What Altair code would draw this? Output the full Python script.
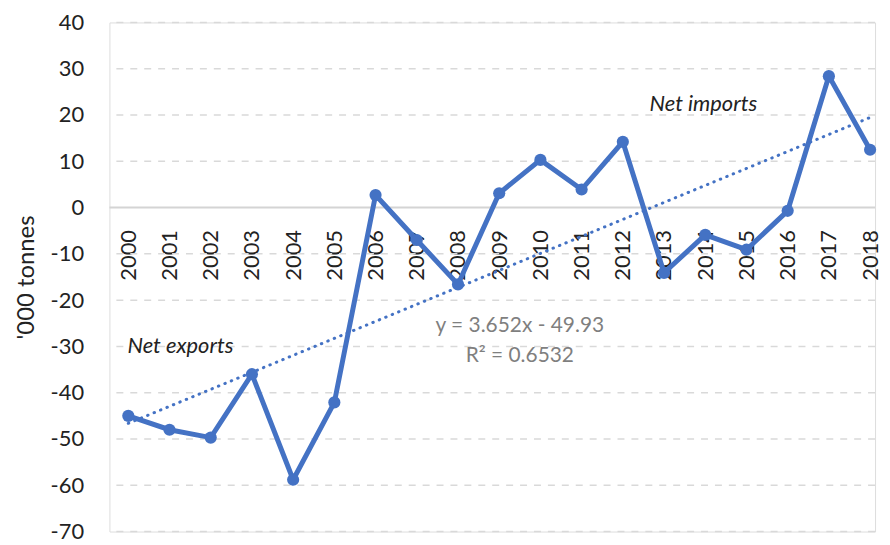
import altair as alt
import pandas as pd

years = list(range(2000, 2019))
values = [-45.0, -48.0, -49.7, -36.0, -58.8, -42.1, 2.7, -7.0, -16.6, 3.1,
          10.3, 3.9, 14.2, -14.1, -5.9, -9.1, -0.7, 28.4, 12.5]
y_ticks = [40, 30, 20, 10, 0, -10, -20, -30, -40, -50, -60, -70]
y_title = "'000 tonnes"
note_texts = ["Net exports", "Net imports"]
note_years = [1999.98, 2012.65]
note_values = [-30.0, 22.4]
eq_texts = ["y = 3.652x - 49.93", "R² = 0.6532"]
eq_years = [2009.5, 2009.5]
eq_values = [-25.6, -32.0]
zero_level = [0]

BLUE = "#4472C4"
FONT = "Lato"
W, H = 770, 512
Y_MIN, Y_MAX = -70, 40
zero_px = H * (Y_MAX - 0) / (Y_MAX - Y_MIN)

df = pd.DataFrame({"year": years, "value": values})
notes = pd.DataFrame({"year": note_years, "value": note_values, "label": note_texts})
eqs = pd.DataFrame({"year": eq_years, "value": eq_values, "label": eq_texts})
zero_df = pd.DataFrame({"value": zero_level})
grid_df = pd.DataFrame({"value": [v for v in y_ticks if v != 0]})

x_scale = alt.Scale(domain=[1999.542, 2018.12], nice=False, zero=False)
y_scale = alt.Scale(domain=[Y_MIN, Y_MAX], nice=False, zero=False)

x_enc = alt.X(
    "year:Q", scale=x_scale,
    axis=alt.Axis(values=years, format="d", labelAngle=-90, ticks=False,
                  labelPadding=22, labelFontSize=22, labelColor="#222222",
                  labelFont=FONT, grid=False, domain=False,
                  offset=-(H - zero_px), title=None,
                  labelFlush=False, labelOverlap=False),
)
y_enc = alt.Y(
    "value:Q", scale=y_scale,
    axis=alt.Axis(values=y_ticks, ticks=False, domain=False, grid=False,
                  labelFontSize=22, labelColor="#222222", labelFont=FONT,
                  labelExpr="toString(datum.value)",
                  labelPadding=26, title=y_title, titleFontSize=24,
                  titleFont=FONT, titleFontWeight="normal", titleColor="#222222",
                  titlePadding=12),
)

grid_rules = alt.Chart(grid_df).mark_rule(
    color="#d9d9d9", strokeWidth=1.5, strokeDash=[7, 7]
).encode(y=y_enc)
zero_rule = alt.Chart(zero_df).mark_rule(color="#d4d4d4", strokeWidth=2).encode(
    y=y_enc)

base = alt.Chart(df)
line = base.mark_line(color=BLUE, strokeWidth=5).encode(x=x_enc, y=y_enc)
points = base.mark_circle(color=BLUE, size=150, opacity=1).encode(
    x=x_enc, y=y_enc)
trend = base.transform_regression("year", "value").mark_line(
    color=BLUE, strokeWidth=3, strokeDash=[0.5, 6.5], strokeCap="round"
).encode(x=x_enc, y=y_enc)

t_notes = alt.Chart(notes).mark_text(
    fontStyle="italic", font=FONT, fontSize=22,
    color="#222222", align="left", baseline="middle"
).encode(x=x_enc, y=y_enc, text="label:N")
t_eq = alt.Chart(eqs).mark_text(
    font=FONT, fontSize=21, color="#7f7f7f",
    align="center", baseline="middle"
).encode(x=x_enc, y=y_enc, text="label:N")

chart = alt.layer(grid_rules, zero_rule, line, trend, points, t_notes, t_eq).properties(
    width=W, height=H, background="white",
    padding={"left": 6, "top": 2, "right": 0, "bottom": 0},
).configure_view(
    stroke=None, strokeWidth=0
).configure_axis(domain=False, ticks=False, grid=False).configure(font=FONT)

chart.save("out.html", embed_options={"renderer": "svg", "actions": False})
